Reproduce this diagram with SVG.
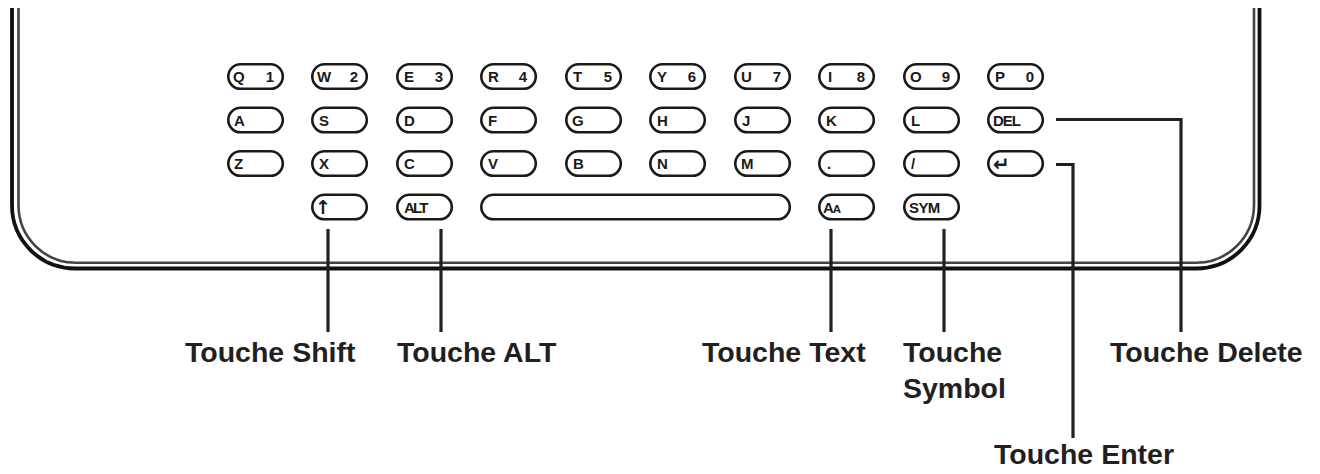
<svg xmlns="http://www.w3.org/2000/svg" width="1320" height="474" viewBox="0 0 1320 474">
<style>
.key{fill:#fff;stroke:#1a1a1a;stroke-width:2.6}
.kt{font-family:"Liberation Sans",Arial,sans-serif;font-weight:bold;font-size:15px;fill:#1a1a1a}
.sym{font-family:"DejaVu Sans",sans-serif;font-weight:bold;fill:#1a1a1a}
.lbl{font-family:"Liberation Sans",Arial,sans-serif;font-weight:bold;font-size:28.5px;fill:#231f20}
.con{fill:none;stroke:#231f20;stroke-width:3.2}
</style>
<rect width="1320" height="474" fill="#fff"/>
<g id="frame" fill="none">
<path d="M12,8 V205 A63,63 0 0 0 75,268.5 H1196.5 A63,63 0 0 0 1259.5,205 V8" stroke="#111" stroke-width="3.8"/>
<path d="M18.5,8 V205 A57.5,57.5 0 0 0 76,262.8 H1196 A58,58 0 0 0 1254,205 V8" stroke="#444" stroke-width="2.6"/>
</g>
<g id="row1">
<g id="key-q"><rect class="key" x="228.3" y="64.3" width="54.5" height="24.5" rx="12.25"/><text class="kt" x="233" y="81.5">Q</text><text class="kt" x="274" y="81.5" text-anchor="end">1</text></g>
<g id="key-w"><rect class="key" x="312.3" y="64.3" width="54.5" height="24.5" rx="12.25"/><text class="kt" x="317" y="81.5">W</text><text class="kt" x="358" y="81.5" text-anchor="end">2</text></g>
<g id="key-e"><rect class="key" x="397.3" y="64.3" width="54.5" height="24.5" rx="12.25"/><text class="kt" x="404" y="81.5">E</text><text class="kt" x="443" y="81.5" text-anchor="end">3</text></g>
<g id="key-r"><rect class="key" x="481.3" y="64.3" width="54.5" height="24.5" rx="12.25"/><text class="kt" x="488" y="81.5">R</text><text class="kt" x="527" y="81.5" text-anchor="end">4</text></g>
<g id="key-t"><rect class="key" x="566.3" y="64.3" width="54.5" height="24.5" rx="12.25"/><text class="kt" x="573" y="81.5">T</text><text class="kt" x="612" y="81.5" text-anchor="end">5</text></g>
<g id="key-y"><rect class="key" x="650.3" y="64.3" width="54.5" height="24.5" rx="12.25"/><text class="kt" x="657" y="81.5">Y</text><text class="kt" x="696" y="81.5" text-anchor="end">6</text></g>
<g id="key-u"><rect class="key" x="735.3" y="64.3" width="54.5" height="24.5" rx="12.25"/><text class="kt" x="741" y="81.5">U</text><text class="kt" x="781" y="81.5" text-anchor="end">7</text></g>
<g id="key-i"><rect class="key" x="819.3" y="64.3" width="54.5" height="24.5" rx="12.25"/><text class="kt" x="828" y="81.5">I</text><text class="kt" x="865" y="81.5" text-anchor="end">8</text></g>
<g id="key-o"><rect class="key" x="904.3" y="64.3" width="54.5" height="24.5" rx="12.25"/><text class="kt" x="910" y="81.5">O</text><text class="kt" x="950" y="81.5" text-anchor="end">9</text></g>
<g id="key-p"><rect class="key" x="988.3" y="64.3" width="54.5" height="24.5" rx="12.25"/><text class="kt" x="995" y="81.5">P</text><text class="kt" x="1034" y="81.5" text-anchor="end">0</text></g>
</g>
<g id="row2">
<g id="key-a"><rect class="key" x="228.3" y="107.8" width="54.5" height="24.5" rx="12.25"/><text class="kt" x="234" y="125.5">A</text></g>
<g id="key-s"><rect class="key" x="312.3" y="107.8" width="54.5" height="24.5" rx="12.25"/><text class="kt" x="319" y="125.5">S</text></g>
<g id="key-d"><rect class="key" x="397.3" y="107.8" width="54.5" height="24.5" rx="12.25"/><text class="kt" x="404" y="125.5">D</text></g>
<g id="key-f"><rect class="key" x="481.3" y="107.8" width="54.5" height="24.5" rx="12.25"/><text class="kt" x="488" y="125.5">F</text></g>
<g id="key-g"><rect class="key" x="566.3" y="107.8" width="54.5" height="24.5" rx="12.25"/><text class="kt" x="572" y="125.5">G</text></g>
<g id="key-h"><rect class="key" x="650.3" y="107.8" width="54.5" height="24.5" rx="12.25"/><text class="kt" x="657" y="125.5">H</text></g>
<g id="key-j"><rect class="key" x="735.3" y="107.8" width="54.5" height="24.5" rx="12.25"/><text class="kt" x="742" y="125.5">J</text></g>
<g id="key-k"><rect class="key" x="819.3" y="107.8" width="54.5" height="24.5" rx="12.25"/><text class="kt" x="826" y="125.5">K</text></g>
<g id="key-l"><rect class="key" x="904.3" y="107.8" width="54.5" height="24.5" rx="12.25"/><text class="kt" x="911" y="125.5">L</text></g>
<g id="key-del"><rect class="key" x="988.3" y="107.8" width="54.5" height="24.5" rx="12.25"/><text class="kt" x="993" y="125.5" letter-spacing="-1">DEL</text></g>
</g>
<g id="row3">
<g id="key-z"><rect class="key" x="228.3" y="151.3" width="54.5" height="24.5" rx="12.25"/><text class="kt" x="234" y="169">Z</text></g>
<g id="key-x"><rect class="key" x="312.3" y="151.3" width="54.5" height="24.5" rx="12.25"/><text class="kt" x="319" y="169">X</text></g>
<g id="key-c"><rect class="key" x="397.3" y="151.3" width="54.5" height="24.5" rx="12.25"/><text class="kt" x="404" y="169">C</text></g>
<g id="key-v"><rect class="key" x="481.3" y="151.3" width="54.5" height="24.5" rx="12.25"/><text class="kt" x="488" y="169">V</text></g>
<g id="key-b"><rect class="key" x="566.3" y="151.3" width="54.5" height="24.5" rx="12.25"/><text class="kt" x="573" y="169">B</text></g>
<g id="key-n"><rect class="key" x="650.3" y="151.3" width="54.5" height="24.5" rx="12.25"/><text class="kt" x="657" y="169">N</text></g>
<g id="key-m"><rect class="key" x="735.3" y="151.3" width="54.5" height="24.5" rx="12.25"/><text class="kt" x="741" y="169">M</text></g>
<g id="key-period"><rect class="key" x="819.3" y="151.3" width="54.5" height="24.5" rx="12.25"/><text class="kt" x="827" y="169">.</text></g>
<g id="key-slash"><rect class="key" x="904.3" y="151.3" width="54.5" height="24.5" rx="12.25"/><text class="kt" x="911" y="169">/</text></g>
<g id="key-enter"><rect class="key" x="988.3" y="151.3" width="54.5" height="24.5" rx="12.25"/><text class="sym" x="993" y="171" font-size="20">↵</text></g>
</g>
<g id="row4">
<g id="key-shift"><rect class="key" x="312.3" y="194.8" width="54.5" height="24.5" rx="12.25"/><text class="sym" x="323" y="214" font-size="19" text-anchor="middle">↑</text></g>
<g id="key-alt"><rect class="key" x="397.3" y="194.8" width="54.5" height="24.5" rx="12.25"/><text class="kt" x="404" y="212.5" letter-spacing="-1.8">ALT</text></g>
<g id="key-space"><rect class="key" x="481.3" y="194.8" width="308.5" height="24.5" rx="12.25"/></g>
<g id="key-text"><rect class="key" x="819.3" y="194.8" width="54.5" height="24.5" rx="12.25"/><text class="kt" x="823" y="212.5" font-size="16" letter-spacing="-1.2">A<tspan font-size="11.5">A</tspan></text></g>
<g id="key-sym"><rect class="key" x="904.3" y="194.8" width="54.5" height="24.5" rx="12.25"/><text class="kt" x="909" y="212.5" letter-spacing="-0.6">SYM</text></g>
</g>
<g id="connectors">
<path class="con" d="M328,229 V332"/>
<path class="con" d="M441,229 V332"/>
<path class="con" d="M831,229 V332"/>
<path class="con" d="M944,229 V332"/>
<path class="con" d="M1056,119.5 H1181 V332"/>
<path class="con" d="M1056,164.5 H1073 V438"/>
</g>
<g id="labels">
<text class="lbl" x="185" y="362">Touche Shift</text>
<text class="lbl" x="397" y="362">Touche ALT</text>
<text class="lbl" x="702" y="362">Touche Text</text>
<text class="lbl" x="903" y="362">Touche</text>
<text class="lbl" x="903" y="398">Symbol</text>
<text class="lbl" x="1110" y="362">Touche Delete</text>
<text class="lbl" x="994" y="464">Touche Enter</text>
</g>
</svg>
